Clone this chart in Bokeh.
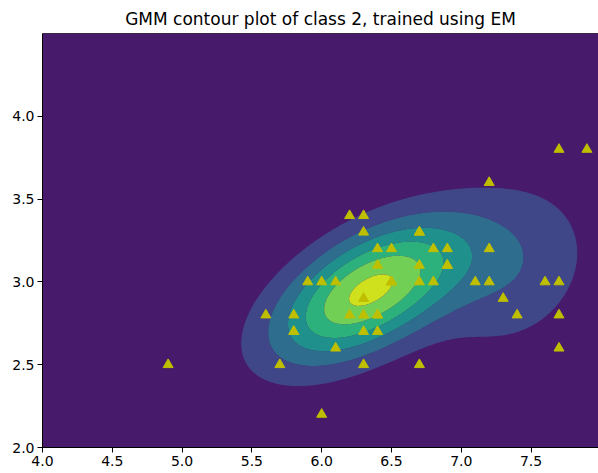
import numpy as np
from bokeh.plotting import figure
from bokeh.models import FixedTicker, NumeralTickFormatter, Span, Range1d
from bokeh.palettes import Viridis256
from bokeh.embed import file_html
from bokeh.resources import INLINE

# Iris virginica (class 2): sepal length / sepal width
sepal_length = [6.3, 5.8, 7.1, 6.3, 6.5, 7.6, 4.9, 7.3, 6.7, 7.2,
                6.5, 6.4, 6.8, 5.7, 5.8, 6.4, 6.5, 7.7, 7.7, 6.0,
                6.9, 5.6, 7.7, 6.3, 6.7, 7.2, 6.2, 6.1, 6.4, 7.2,
                7.4, 7.9, 6.4, 6.3, 6.1, 7.7, 6.3, 6.4, 6.0, 6.9,
                6.7, 6.9, 5.8, 6.8, 6.7, 6.7, 6.3, 6.5, 6.2, 5.9]
sepal_width = [3.3, 2.7, 3.0, 2.9, 3.0, 3.0, 2.5, 2.9, 2.5, 3.6,
               3.2, 2.7, 3.0, 2.5, 2.8, 3.2, 3.0, 3.8, 2.6, 2.2,
               3.2, 2.8, 2.8, 2.7, 3.3, 3.2, 2.8, 3.0, 2.8, 3.0,
               2.8, 3.8, 2.8, 2.8, 2.6, 3.0, 3.4, 3.1, 3.0, 3.1,
               3.1, 3.1, 2.7, 3.2, 3.3, 3.0, 2.5, 3.0, 3.4, 3.0]

# Fitted mixture parameters (two full-covariance components)
weights = [0.748, 0.252]
means = [[6.335, 2.945], [7.39, 3.07]]
covariances = [[[0.227, 0.079], [0.079, 0.090]],
               [[0.170, 0.035], [0.035, 0.130]]]

x_ticks = [4.0, 4.5, 5.0, 5.5, 6.0, 6.5, 7.0, 7.5]
y_ticks = [2.0, 2.5, 3.0, 3.5, 4.0]

# Mixture density on a grid
gx = np.linspace(3.9, 8.2, 400)
gy = np.linspace(1.9, 4.6, 300)
X, Y = np.meshgrid(gx, gy)
Z = np.zeros_like(X)
for w, m, c in zip(weights, means, covariances):
    c = np.array(c)
    inv = np.linalg.inv(c)
    det = np.linalg.det(c)
    dx = X - m[0]
    dy = Y - m[1]
    q = inv[0, 0] * dx * dx + 2 * inv[0, 1] * dx * dy + inv[1, 1] * dy * dy
    Z += w * np.exp(-0.5 * q) / (2 * np.pi * np.sqrt(det))

n_bands = 7
step = Z.max() / 6.3
levels = list(step * np.arange(n_bands + 1))
levels[0] = 0.0
levels[-1] = max(levels[-1], Z.max() * 1.001)
colors = [Viridis256[int((i + 0.5) / n_bands * 256)] for i in range(n_bands)]

p = figure(width=598, height=473,
           x_range=Range1d(4.0, 7.983), y_range=Range1d(2.0, 4.5),
           output_backend="svg", toolbar_location=None,
           min_border_left=42, min_border_right=0,
           min_border_top=33, min_border_bottom=26,
           title="GMM contour plot of class 2, trained using EM")
p.background_fill_color = colors[0]
p.border_fill_color = "white"
p.outline_line_color = None
p.grid.visible = False

p.title.align = "center"
p.title.text_font = "DejaVu Sans"
p.title.text_font_size = "17px"
p.title.text_font_style = "normal"
p.title.text_color = "black"

p.contour(x=gx, y=gy, z=Z, levels=levels, fill_color=colors, line_color=None)

p.scatter(sepal_length, sepal_width, marker="triangle", size=10,
          fill_color="#bfbf00", line_color="#bfbf00")

for ax, ticks in ((p.xaxis[0], x_ticks), (p.yaxis[0], y_ticks)):
    ax.ticker = FixedTicker(ticks=ticks)
    ax.formatter = NumeralTickFormatter(format="0.0")
    ax.minor_tick_line_color = None
    ax.major_tick_out = 5
    ax.major_tick_in = 0
    ax.major_label_standoff = 3
    ax.major_label_text_font = "DejaVu Sans"
    ax.major_label_text_font_size = "14px"
    ax.major_label_text_color = "black"
    ax.axis_line_color = "black"
    ax.major_tick_line_color = "black"

p.add_layout(Span(location=4.5, dimension="width", line_color="black", line_width=1))

open("out.html", "w").write(file_html(p, INLINE))
